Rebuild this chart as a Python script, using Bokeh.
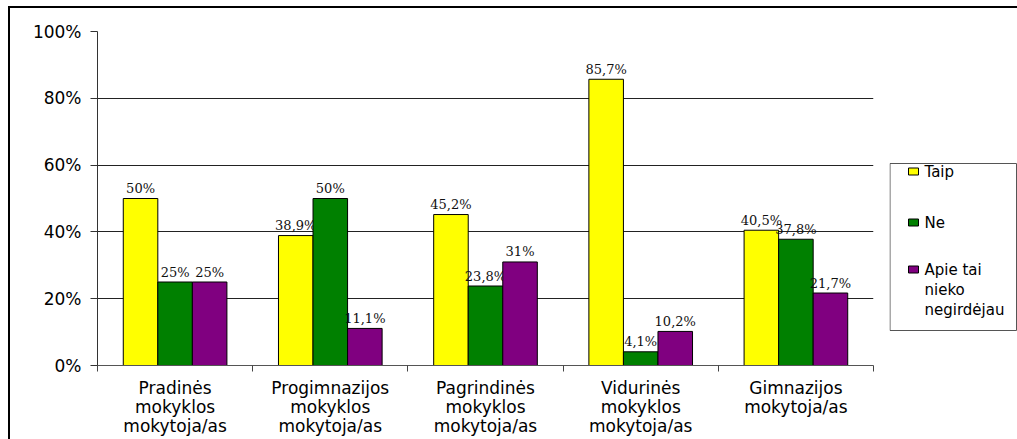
from bokeh.plotting import figure
from bokeh.layouts import row
from bokeh.models import Range1d, FixedTicker, ColumnDataSource, InlineStyleSheet
from bokeh.core.properties import value
from bokeh.embed import file_html
from bokeh.resources import INLINE

# --- data -----------------------------------------------------------------
categories = [
    "Pradinės\nmokyklos\nmokytoja/as",
    "Progimnazijos\nmokyklos\nmokytoja/as",
    "Pagrindinės\nmokyklos\nmokytoja/as",
    "Vidurinės\nmokyklos\nmokytoja/as",
    "Gimnazijos\nmokytoja/as",
]
series_names = ["Taip", "Ne", "Apie tai\nnieko\nnegirdėjau"]
taip = [50, 38.9, 45.2, 85.7, 40.5]
ne = [25, 50, 23.8, 4.1, 37.8]
apie = [25, 11.1, 31, 10.2, 21.7]
y_ticks = [0, 20, 40, 60, 80, 100]

colors = ["#FFFF00", "#008000", "#800080"]
bar_w = 0.2226
offsets = [-bar_w, 0.0, bar_w]


def pct(v):
    return f"{v:g}".replace(".", ",") + "%"


# --- main chart -------------------------------------------------------------
p = figure(width=889, height=439, output_backend="svg", toolbar_location=None,
           x_range=Range1d(0, len(categories)), y_range=Range1d(0, 100),
           min_border_left=97, min_border_right=16, min_border_top=31,
           min_border_bottom=74)
p.outline_line_color = None
p.background_fill_color = "white"
p.border_fill_color = "white"

for vals, col, off in zip([taip, ne, apie], colors, offsets):
    xs = [i + 0.5 + off for i in range(len(categories))]
    src = ColumnDataSource(dict(x=xs, top=vals, lab=[pct(v) for v in vals]))
    p.vbar(x="x", top="top", width=bar_w, bottom=0, source=src,
           fill_color=col, line_color="black", line_width=1)
    p.text(x="x", y="top", text="lab", source=src, text_align="center",
           text_baseline="alphabetic", y_offset=-10,
           text_font=value("DejaVu Serif"), text_font_size="13px",
           text_color="#111111")

# x axis: category boundaries as minor ticks, names at the centres
p.xaxis.ticker = FixedTicker(ticks=[i + 0.5 for i in range(len(categories))],
                             minor_ticks=list(range(len(categories) + 1)))
p.xaxis.major_label_overrides = {i + 0.5: c for i, c in enumerate(categories)}
p.xaxis.major_tick_line_color = None
p.xaxis.major_tick_out = 0
p.xaxis.major_tick_in = 0
p.xaxis.minor_tick_out = 6
p.xaxis.minor_tick_in = 0
p.xaxis.minor_tick_line_color = "#444444"
p.xaxis.axis_line_color = "#555555"
p.xaxis.major_label_standoff = 6
p.xaxis.major_label_text_font = "DejaVu Sans"
p.xaxis.major_label_text_font_size = "17px"
p.xaxis.major_label_text_line_height = 0.96
p.xaxis.major_label_text_color = "black"

# y axis
p.yaxis.ticker = FixedTicker(ticks=y_ticks, minor_ticks=[])
p.yaxis.major_label_overrides = {t: f"{t}%" for t in y_ticks}
p.yaxis.major_tick_out = 7
p.yaxis.major_tick_in = 0
p.yaxis.major_tick_line_color = "#333333"
p.yaxis.axis_line_color = "#333333"
p.yaxis.major_label_standoff = 9
p.yaxis.major_label_text_font = "DejaVu Sans"
p.yaxis.major_label_text_font_size = "17px"
p.yaxis.major_label_text_color = "black"

p.xgrid.grid_line_color = None
p.ygrid.ticker = FixedTicker(ticks=y_ticks[1:])
p.ygrid.grid_line_color = "#222222"
p.ygrid.grid_line_width = 1

# --- legend panel ------------------------------------------------------------
# The row lines this panel's frame up with the chart frame (pixels 31..365),
# so a flipped 365..31 range makes one data unit equal one page pixel.
leg = figure(width=128, height=439, output_backend="svg", toolbar_location=None,
             x_range=Range1d(0, 128), y_range=Range1d(365, 31),
             x_axis_location=None, y_axis_location=None, title=None,
             min_border=0, min_border_left=0, min_border_right=0,
             min_border_top=0, min_border_bottom=0)
leg.grid.visible = False
leg.outline_line_color = None
leg.background_fill_color = "white"
leg.border_fill_color = "white"

leg.quad(left=[0.5], right=[127], top=[163], bottom=[330],
         fill_color="white", line_color="#555555", line_width=1)

item_y = [171, 222, 269]
leg.quad(left=[19] * 3, right=[29] * 3,
         top=[y - 3.5 for y in item_y], bottom=[y + 3.5 for y in item_y],
         fill_color=colors, line_color="black", line_width=1)
line_x, line_y, line_t = [], [], []
for name, y in zip(series_names, item_y):
    for k, part in enumerate(name.split("\n")):
        line_x.append(35)
        line_y.append(y + 20 * k)
        line_t.append(part)
leg.text(x=line_x, y=line_y, text=line_t, text_baseline="middle",
         text_align="left", text_font=value("DejaVu Sans"),
         text_font_size="15px", text_color="black")

layout = row(p, leg, spacing=0)
layout.stylesheets = [InlineStyleSheet(css=(
    ":host { position: relative; }"
    ":host::after { content: ''; position: absolute; left: 8px; top: 6px; "
    "width: calc(100% - 8px); height: calc(100% - 6px); "
    "border-left: 2px solid black; border-top: 2px solid black; "
    "pointer-events: none; box-sizing: border-box; }"))]

open("out.html", "w").write(file_html(layout, INLINE))
